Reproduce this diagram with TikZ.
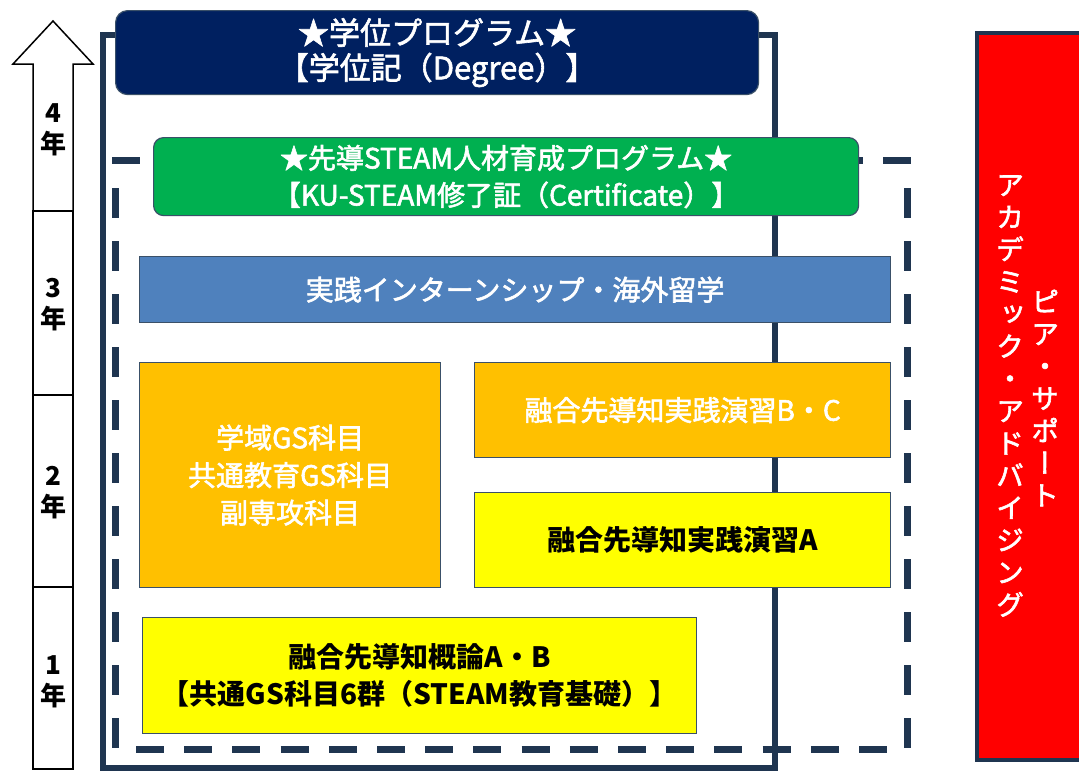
\documentclass[tikz,border=0pt]{standalone}
\usepackage{fontspec}
\setmainfont{Noto Sans CJK JP}
\newfontfamily\jpm{Noto Sans CJK JP}[FakeBold=2]
\newfontfamily\vjp{Noto Sans CJK JP}[RawFeature=+vert, FakeBold=2]
\definecolor{framec}{HTML}{1F3550}
\definecolor{outl}{HTML}{3A5068}
\definecolor{navyc}{HTML}{002060}
\definecolor{greenc}{HTML}{00B050}
\definecolor{bluec}{HTML}{4F81BD}
\definecolor{orangec}{HTML}{FFC000}
\definecolor{yellowc}{HTML}{FFFF00}
\definecolor{redc}{HTML}{FF0000}
\begin{document}
\begin{tikzpicture}[x=1pt,y=-1pt,
  prog/.style={draw=outl, line width=1.2pt, inner sep=0pt, align=center, anchor=north west},
  whitetext/.style={text=white, font=\jpm\fontsize{28}{37.5}\selectfont},
  blacktext/.style={text=black, font=\bfseries\fontsize{28}{37}\selectfont},
  yearbox/.style={draw=black, line width=1.5pt},
  yearlabel/.style={font=\bfseries\fontsize{26}{31}\selectfont, align=center, inner sep=0pt},
  solidframe/.style={draw=framec, line width=6pt, line join=miter},
  dashh/.style={draw=framec, line width=7pt, dash pattern=on 28pt off 20.2pt},
  dashv/.style={draw=framec, line width=7pt, dash pattern=on 30pt off 23pt},
  vtext/.style={text=white, font=\vjp\fontsize{28}{32.3}\selectfont, align=center, inner sep=0pt}
]
\path[use as bounding box] (0,0) rectangle (1079,771);
\clip (0,0) rectangle (1079,771);
\fill[white] (0,0) rectangle (1079,771);

% year arrow
\draw[yearbox, fill=white, line join=miter] (33,211) -- (33,64) -- (13,64) -- (53,21) -- (93,64) -- (73,64) -- (73,211) -- cycle;
\draw[yearbox] (33,211) rectangle (73,395);
\draw[yearbox] (33,395) rectangle (73,587);
\draw[yearbox] (33,587) rectangle (73,769);
\node[yearlabel] (y4) at (53,130) {4\\年};
\node[yearlabel] (y3) at (53,305) {3\\年};
\node[yearlabel] (y2) at (53,493) {2\\年};
\node[yearlabel] (y1) at (53,682) {1\\年};

% solid frame (degree program)
\draw[solidframe] (103,34.5) rectangle (775,768);

% dashed frame (STEAM program)
\draw[dashh] (112,160.5) -- (911,160.5);
\draw[dashh] (136,749.5) -- (887,749.5);
\draw[dashv] (115.5,188) -- (115.5,748);
\draw[dashv] (907.5,188) -- (907.5,748);

% boxes
\node[prog, whitetext, fill=navyc, rounded corners=12pt, minimum width=643pt, minimum height=84pt, font=\jpm\fontsize{31}{35}\selectfont] (degree) at (115,10) {★学位プログラム★\\【学位記（Degree）】};
\node[prog, whitetext, fill=greenc, rounded corners=10pt, minimum width=705pt, minimum height=78pt, font=\jpm\fontsize{28}{37}\selectfont] (steam) at (153,137) {★先導STEAM人材育成プログラム★\\【KU-STEAM修了証（Certificate）】};
\node[prog, whitetext, fill=bluec, minimum width=751pt, minimum height=66pt] (intern) at (139,256) {実践インターンシップ・海外留学};
\node[prog, whitetext, fill=orangec, minimum width=301pt, minimum height=225pt] (gs) at (139,362) {学域GS科目\\共通教育GS科目\\副専攻科目};
\node[prog, whitetext, fill=orangec, minimum width=416pt, minimum height=95pt] (bc) at (474,362) {融合先導知実践演習B・C};
\node[prog, blacktext, fill=yellowc, minimum width=416pt, minimum height=95pt] (ea) at (474,492) {融合先導知実践演習A};
\node[prog, blacktext, fill=yellowc, minimum width=554pt, minimum height=116pt] (intro) at (142,617) {融合先導知概論A・B\\【共通GS科目6群（STEAM教育基礎）】};

% support box
\node[draw=framec, line width=4pt, fill=redc, anchor=north west, minimum width=140pt, minimum height=727pt, inner sep=0pt] (support) at (975,31) {};
\node[vtext] (peer) at (1045,398) {ピ\\ア\\・\\サ\\ポ\\ー\\ト};
\node[vtext] (acad) at (1010,396) {ア\\カ\\デ\\ミ\\ッ\\ク\\・\\ア\\ド\\バ\\イ\\ジ\\ン\\グ};
\end{tikzpicture}
\end{document}
